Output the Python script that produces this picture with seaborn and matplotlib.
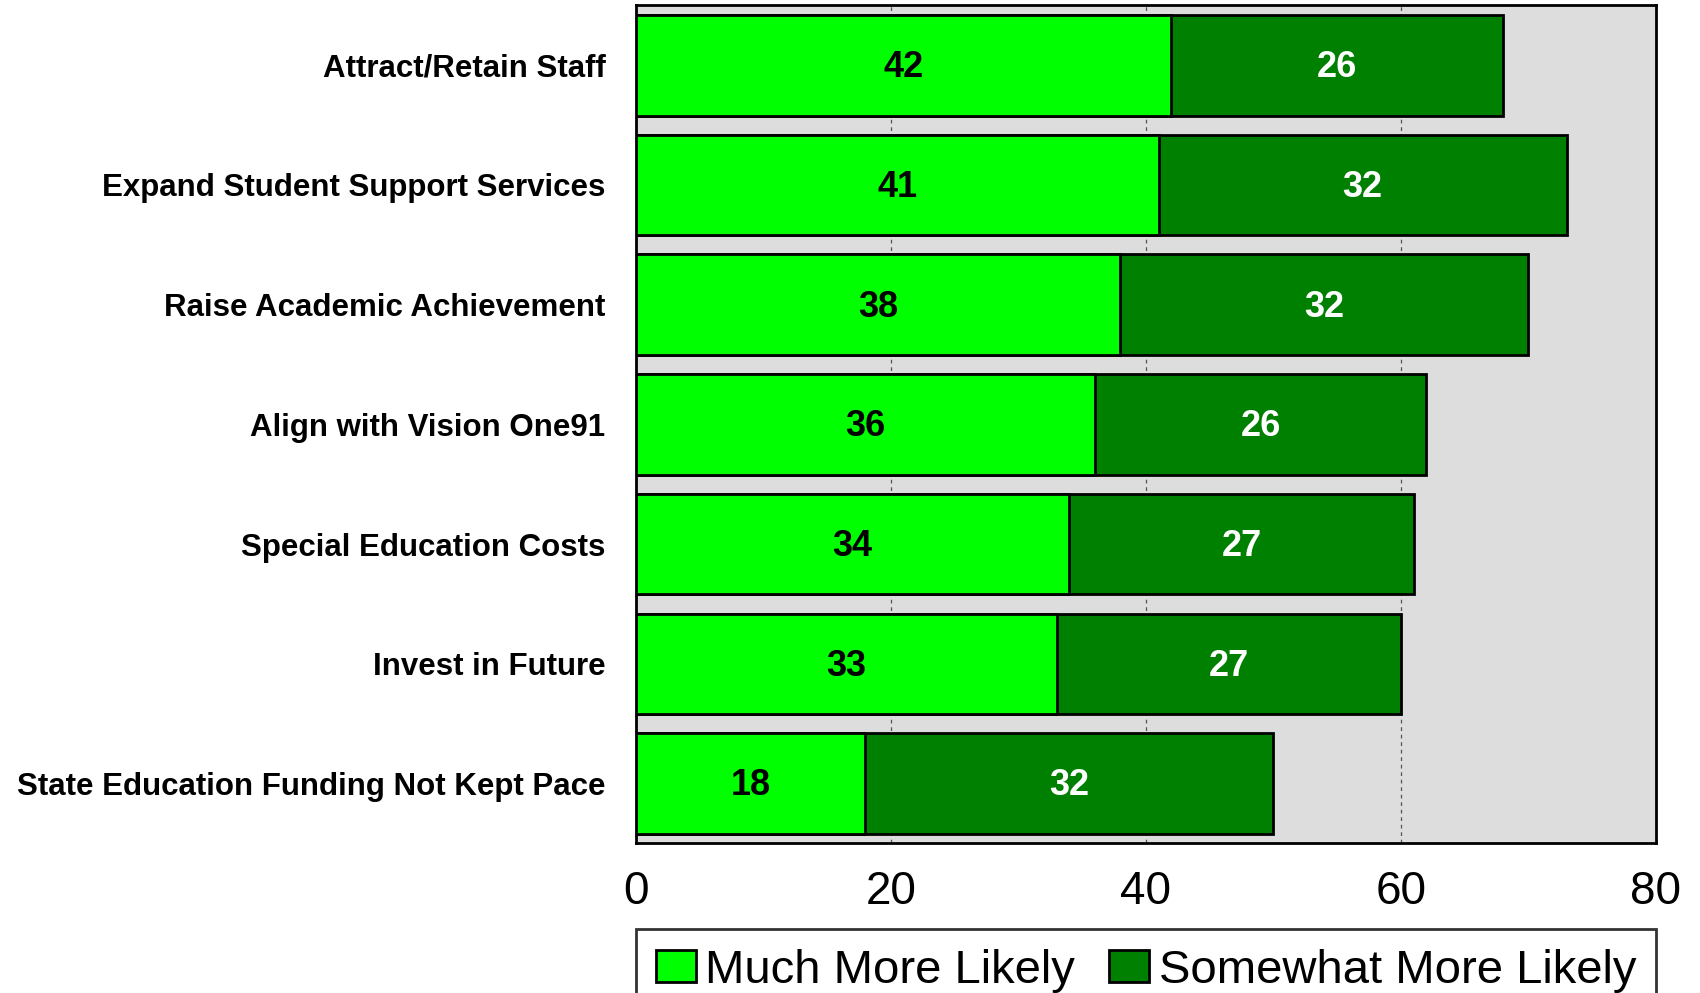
import matplotlib
matplotlib.use("Agg")
import matplotlib.pyplot as plt
from matplotlib.patches import Patch
import seaborn as sns
import pandas as pd

categories = [
    "Attract/Retain Staff",
    "Expand Student Support Services",
    "Raise Academic Achievement",
    "Align with Vision One91",
    "Special Education Costs",
    "Invest in Future",
    "State Education Funding Not Kept Pace",
]
much_more = [42, 41, 38, 36, 34, 33, 18]
somewhat_more = [26, 32, 32, 26, 27, 27, 32]
series_names = ["Much More Likely", "Somewhat More Likely"]
x_ticks = [0, 20, 40, 60, 80]

LIGHT = "#00FF00"
DARK = "#008000"

df = pd.DataFrame({"cat": categories, "much": much_more, "some": somewhat_more})
df["total"] = df["much"] + df["some"]

sns.set_theme(style="white")
plt.rcParams["font.family"] = ["Liberation Sans", "DejaVu Sans"]

fig = plt.figure(figsize=(17, 9.93), dpi=100)
ax = fig.add_axes([0.3741, 0.1506, 0.6, 0.844])
ax.set_facecolor("#DDDDDD")

# stacked horizontal bars: full total in dark green, first segment overlaid in bright green
sns.barplot(data=df, y="cat", x="total", orient="h", color=DARK, saturation=1,
            width=0.84, edgecolor="black", linewidth=2, ax=ax, zorder=3)
sns.barplot(data=df, y="cat", x="much", orient="h", color=LIGHT, saturation=1,
            width=0.84, edgecolor="black", linewidth=2, ax=ax, zorder=4)

for i, (m, s) in enumerate(zip(much_more, somewhat_more)):
    ax.text(m / 2, i + 0.02, f"{m}", ha="center", va="center", fontsize=26,
            fontweight="bold", color="black", zorder=5)
    ax.text(m + s / 2, i + 0.02, f"{s}", ha="center", va="center", fontsize=26,
            fontweight="bold", color="white", zorder=5)

ax.set_xlim(0, 80)
ax.set_ylim(6.5, -0.5)
ax.set_xticks(x_ticks)
ax.set_xticklabels([str(t) for t in x_ticks], fontsize=33)
ax.set_xlabel("")
ax.set_ylabel("")
ax.tick_params(axis="x", length=0, pad=19, colors="black")
ax.tick_params(axis="y", length=0, pad=22)
for lbl in ax.get_yticklabels():
    lbl.set_fontsize(22.5)
    lbl.set_fontweight("bold")
    lbl.set_color("black")

for x in x_ticks[1:-1]:
    ax.axvline(x, color="#555555", linestyle=(0, (3, 3)), linewidth=0.9, zorder=1)

for sp in ax.spines.values():
    sp.set_visible(True)
    sp.set_color("black")
    sp.set_linewidth(2)

handles = [Patch(facecolor=LIGHT, edgecolor="black", linewidth=2),
           Patch(facecolor=DARK, edgecolor="black", linewidth=2)]
leg = ax.legend(handles, series_names, loc="upper left", ncol=2,
                bbox_to_anchor=(0, -0.112, 1, 0.01), mode="expand",
                fontsize=34, frameon=True, fancybox=False, borderpad=0.42,
                handlelength=0.85, handleheight=0.65, handletextpad=0.2,
                borderaxespad=0, columnspacing=0.5)
leg.get_frame().set_edgecolor("black")
leg.get_frame().set_linewidth(2)
for t in leg.get_texts():
    t.set_color("black")

fig.savefig("out.png", dpi=100)
